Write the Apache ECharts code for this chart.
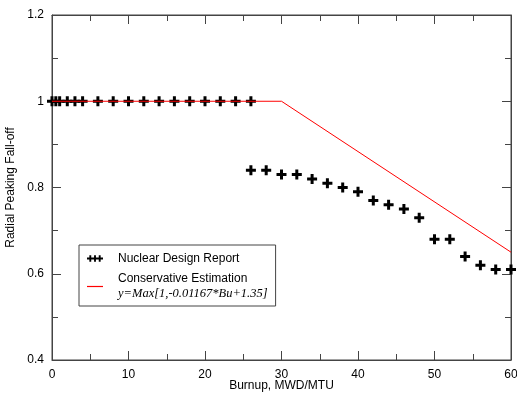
<!DOCTYPE html>
<html>
<head>
<meta charset="utf-8">
<script src="https://cdn.jsdelivr.net/npm/echarts@6/dist/echarts.min.js"></script>
<style>
  html, body { margin: 0; padding: 0; background: #fff; }
  #main { width: 517px; height: 394px; }
</style>
</head>
<body>
<div id="main"></div>
<script>
// burnup (MWD/MTU) vs radial peaking fall-off
var reportX = [0, 0.5, 1, 2, 3, 4, 6, 8, 10, 12, 14, 16, 18, 20, 22, 24, 26,
               26, 28, 30, 32, 34, 36, 38, 40, 42, 44, 46, 48, 50, 52, 54, 56, 58, 60];
var reportY = [1, 1, 1, 1, 1, 1, 1, 1, 1, 1, 1, 1, 1, 1, 1, 1, 1,
               0.84, 0.84, 0.83, 0.83, 0.82, 0.81, 0.80, 0.79, 0.77, 0.76, 0.75, 0.73, 0.68, 0.68, 0.64, 0.62, 0.61, 0.61];
var estimateX = [0, 30, 60];
var estimateY = [1, 1, 0.65];
var formulaText = 'y=Max[1,-0.01167*Bu+1.35]';

(function(){
    var font = 'Liberation Sans';
    var axisColor = '#444';
    var plus = 'path://M3.5,0H6.5V3.5H10V6.5H6.5V10H3.5V6.5H0V3.5H3.5Z';
    var plus3 = 'path://M0,2.5H17V4.5H0Z M2.5,0H4.5V7H2.5Z M7.5,0H9.5V7H7.5Z M12.5,0H14.5V7H12.5Z';
    var dash = 'path://M0,0H16V1.2H0Z';

    function pairs(xs, ys){
        var out = [];
        for (var i = 0; i < xs.length; i++) out.push([xs[i], ys[i]]);
        return out;
    }

    var hidden = {show: false};
    // tick-only axes for the top and right frame: outside ticks of a thin grid
    // that sits just outside the plot, so they point into the plot
    function mirrorX(g){
        return {
            gridIndex: g, type: 'value', min: 0, max: 60, interval: 10, position: 'bottom',
            axisLine: {show: true, onZero: false, lineStyle: {color: axisColor}},
            axisTick: {show: true, inside: false, length: 9},
            minorTick: {show: true, splitNumber: 2, length: 6},
            axisLabel: {show: false}, splitLine: {show: false}
        };
    }
    function mirrorY(g){
        return {
            gridIndex: g, type: 'value', min: 0.4, max: 1.2, interval: 0.2, position: 'left',
            axisLine: {show: true, onZero: false, lineStyle: {color: axisColor}},
            axisTick: {show: true, inside: false, length: 9},
            minorTick: {show: true, splitNumber: 2, length: 6},
            axisLabel: {show: false}, splitLine: {show: false}
        };
    }

    var option = {
        animation: false,
        backgroundColor: '#fff',
        grid: [
            {left: 52, right: 6, top: 15, bottom: 34, outerBoundsMode: 'none',
             show: true, borderColor: axisColor, borderWidth: 1, backgroundColor: 'transparent'},
            {left: 52, right: 6, top: 5, bottom: 379, outerBoundsMode: 'none'},
            {left: 511, right: 1, top: 15, bottom: 34, outerBoundsMode: 'none'}
        ],
        xAxis: [{
            gridIndex: 0, type: 'value', min: 0, max: 60, interval: 10,
            name: 'Burnup, MWD/MTU',
            nameLocation: 'middle', nameGap: 20, nameMoveOverlap: false,
            nameTextStyle: {fontFamily: font, fontSize: 12, color: '#000'},
            axisLine: {show: true, onZero: false, lineStyle: {color: axisColor}},
            axisTick: {show: true, inside: true, length: 9},
            minorTick: {show: true, splitNumber: 2, length: 6},
            axisLabel: {margin: 9, fontFamily: font, fontSize: 12, color: '#000'},
            splitLine: {show: false}
        },
            mirrorX(1),
            {gridIndex: 2, type: 'value', show: false}
        ],
        yAxis: [{
            gridIndex: 0, type: 'value', min: 0.4, max: 1.2, interval: 0.2,
            name: 'Radial Peaking Fall-off',
            nameLocation: 'middle', nameGap: 35, nameMoveOverlap: false,
            nameTextStyle: {fontFamily: font, fontSize: 12, color: '#000'},
            axisLine: {show: true, onZero: false, lineStyle: {color: axisColor}},
            axisTick: {show: true, inside: true, length: 9},
            minorTick: {show: true, splitNumber: 2, length: 6},
            axisLabel: {margin: 8, fontFamily: font, fontSize: 12, color: '#000'},
            splitLine: {show: false}
        },
            {gridIndex: 1, type: 'value', show: false},
            mirrorY(2)
        ],
        legend: {
            left: 79, top: 245,
            orient: 'vertical',
            padding: [6, 8, 4, 8],
            itemGap: 5,
            itemWidth: 16, itemHeight: 8,
            borderColor: '#444', borderWidth: 1,
            backgroundColor: '#fff',
            textStyle: {
                fontFamily: font, fontSize: 12, lineHeight: 15, color: '#000', padding: [0, 0, 0, 10],
                rich: {
                    f: {fontFamily: 'Liberation Serif', fontStyle: 'italic', fontSize: 12.5, lineHeight: 16, color: '#000'}
                }
            },
            formatter: function(name){
                if (name === 'Conservative Estimation') return name + '\n{f|' + formulaText + '}';
                return name;
            },
            data: [
                {name: 'Nuclear Design Report', icon: plus3},
                {name: 'Conservative Estimation', icon: dash}
            ]
        },
        series: [
            {
                name: 'Conservative Estimation',
                type: 'line',
                symbol: 'none',
                color: '#ff0000',
                lineStyle: {color: '#ff0000', width: 1},
                data: pairs(estimateX, estimateY),
                z: 3
            },
            {
                name: 'Nuclear Design Report',
                type: 'scatter',
                symbol: plus,
                symbolSize: 10,
                color: '#000',
                itemStyle: {color: '#000', opacity: 1},
                data: pairs(reportX, reportY),
                z: 2
            }
        ]
    };

    var myChart = echarts.init(document.getElementById('main'));
    myChart.setOption(option);
})();
</script>
</body>
</html>
